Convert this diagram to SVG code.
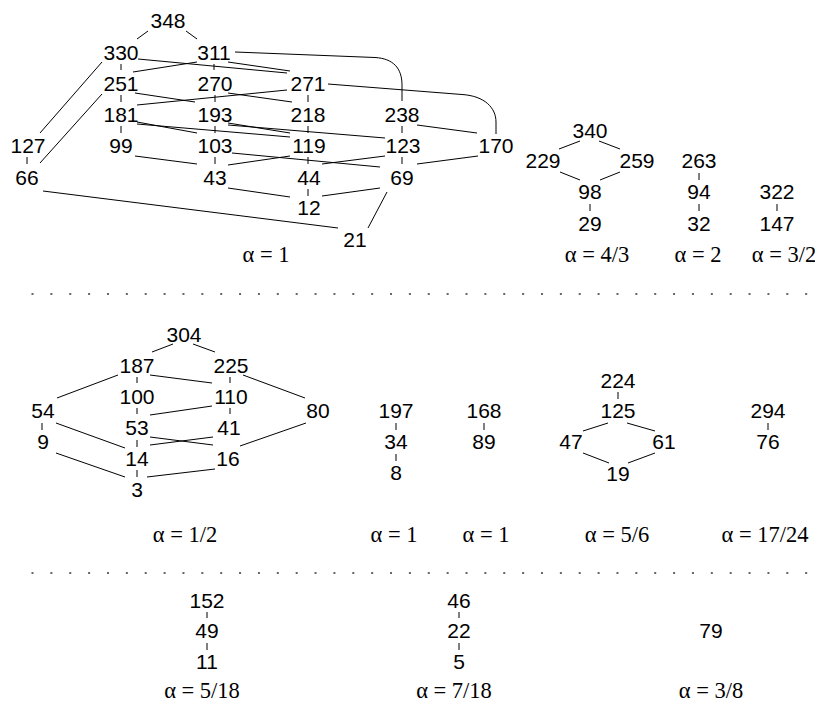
<svg xmlns="http://www.w3.org/2000/svg" width="815" height="706" viewBox="0 0 815 706">
<style>
.n text{font-family:"Liberation Sans",Arial,sans-serif;font-size:21px;text-anchor:middle;fill:#000}
.a{font-family:"Liberation Serif","Times New Roman",serif;font-size:22.5px;text-anchor:middle;fill:#000}
.e line,.e path{stroke:#000;stroke-width:1;fill:none}
.dots{stroke:#666;stroke-width:2;stroke-dasharray:2 16.87}
</style>
<rect width="815" height="706" fill="#fff"/>
<g class="e" id="connectors">
<line x1="137" y1="39" x2="148" y2="31"/>
<line x1="186" y1="31" x2="197" y2="39"/>
<line x1="121" y1="64" x2="121" y2="70"/>
<line x1="102" y1="62" x2="40" y2="133"/>
<line x1="138" y1="59" x2="287" y2="73"/>
<line x1="197" y1="62" x2="133" y2="72"/>
<line x1="228" y1="62" x2="290" y2="71"/>
<line x1="214" y1="64" x2="214" y2="70"/>
<path d="M235,52 L375,57.5 C393,58.5 402,68 402,85 L402,101"/>
<path d="M328,84 L462,94.5 C485,96 496,108 496,122 L496,134"/>
<line x1="121" y1="95" x2="121" y2="102"/>
<line x1="102" y1="94" x2="40" y2="163"/>
<line x1="135" y1="93" x2="195" y2="102"/>
<line x1="215" y1="95" x2="215" y2="102"/>
<line x1="228" y1="93" x2="292" y2="102"/>
<line x1="308" y1="95" x2="308" y2="102"/>
<line x1="287" y1="90" x2="137" y2="105"/>
<line x1="121" y1="126" x2="121" y2="133"/>
<line x1="137" y1="122" x2="197" y2="133"/>
<line x1="137" y1="124" x2="290" y2="137"/>
<line x1="215" y1="126" x2="215" y2="133"/>
<line x1="228" y1="123" x2="290" y2="133"/>
<line x1="228" y1="125" x2="385" y2="138"/>
<line x1="308" y1="126" x2="308" y2="133"/>
<line x1="402" y1="126" x2="402" y2="133"/>
<line x1="417" y1="125" x2="477" y2="133"/>
<line x1="27" y1="157" x2="27" y2="164"/>
<line x1="135" y1="156" x2="197" y2="164"/>
<line x1="215" y1="157" x2="215" y2="164"/>
<line x1="232" y1="153" x2="380" y2="167"/>
<line x1="290" y1="156" x2="228" y2="165"/>
<line x1="308" y1="157" x2="308" y2="164"/>
<line x1="385" y1="156" x2="322" y2="164"/>
<line x1="402" y1="157" x2="402" y2="164"/>
<line x1="478" y1="156" x2="417" y2="164"/>
<line x1="228" y1="188" x2="290" y2="197"/>
<line x1="308" y1="189" x2="308" y2="196"/>
<line x1="380" y1="188" x2="322" y2="196"/>
<line x1="387" y1="192" x2="368" y2="228"/>
<line x1="43" y1="191" x2="338" y2="228"/>
<line x1="580" y1="141" x2="559" y2="149"/>
<line x1="599" y1="141" x2="620" y2="149"/>
<line x1="560" y1="172" x2="580" y2="180"/>
<line x1="620" y1="172" x2="600" y2="180"/>
<line x1="590" y1="204" x2="590" y2="211"/>
<line x1="699" y1="173" x2="699" y2="180"/>
<line x1="699" y1="204" x2="699" y2="211"/>
<line x1="777" y1="204" x2="777" y2="211"/>
<line x1="152" y1="352" x2="173" y2="344"/>
<line x1="193" y1="344" x2="215" y2="352"/>
<line x1="137" y1="377" x2="137" y2="383"/>
<line x1="118" y1="375" x2="57" y2="398"/>
<line x1="150" y1="375" x2="212" y2="383"/>
<line x1="230" y1="377" x2="230" y2="383"/>
<line x1="243" y1="375" x2="305" y2="398"/>
<line x1="137" y1="408" x2="137" y2="414"/>
<line x1="212" y1="406" x2="150" y2="415"/>
<line x1="230" y1="408" x2="230" y2="414"/>
<line x1="42" y1="423" x2="42" y2="430"/>
<line x1="56" y1="423" x2="125" y2="448"/>
<line x1="137" y1="440" x2="137" y2="447"/>
<line x1="150" y1="437" x2="213" y2="445"/>
<line x1="213" y1="437" x2="150" y2="445"/>
<line x1="306" y1="423" x2="240" y2="446"/>
<line x1="56" y1="453" x2="125" y2="477"/>
<line x1="137" y1="470" x2="137" y2="477"/>
<line x1="215" y1="469" x2="147" y2="477"/>
<line x1="396" y1="423" x2="396" y2="430"/>
<line x1="396" y1="454" x2="396" y2="461"/>
<line x1="484" y1="423" x2="484" y2="430"/>
<line x1="618" y1="392" x2="618" y2="399"/>
<line x1="608" y1="423" x2="583" y2="431"/>
<line x1="627" y1="423" x2="655" y2="431"/>
<line x1="583" y1="453" x2="609" y2="463"/>
<line x1="655" y1="453" x2="628" y2="463"/>
<line x1="768" y1="423" x2="768" y2="430"/>
<line x1="207" y1="612" x2="207" y2="618"/>
<line x1="207" y1="643" x2="207" y2="650"/>
<line x1="459" y1="612" x2="459" y2="618"/>
<line x1="459" y1="643" x2="459" y2="650"/>
</g>
<line class="dots" x1="31.5" y1="294" x2="810" y2="294"/>
<line class="dots" x1="31.5" y1="573" x2="810" y2="573"/>
<g class="n">
<g id="n348"><text x="168" y="28">348</text></g>
<g id="n330"><text x="121" y="60">330</text></g>
<g id="n311"><text x="214" y="60">311</text></g>
<g id="n251"><text x="121" y="91">251</text></g>
<g id="n270"><text x="215" y="91">270</text></g>
<g id="n271"><text x="308" y="91">271</text></g>
<g id="n181"><text x="121" y="122">181</text></g>
<g id="n193"><text x="215" y="122">193</text></g>
<g id="n218"><text x="308" y="122">218</text></g>
<g id="n238"><text x="402" y="122">238</text></g>
<g id="n127"><text x="28" y="153">127</text></g>
<g id="n99"><text x="121" y="153">99</text></g>
<g id="n103"><text x="215" y="153">103</text></g>
<g id="n119"><text x="309" y="153">119</text></g>
<g id="n123"><text x="403" y="153">123</text></g>
<g id="n170"><text x="496" y="153">170</text></g>
<g id="n66"><text x="27" y="185">66</text></g>
<g id="n43"><text x="215" y="185">43</text></g>
<g id="n44"><text x="309" y="185">44</text></g>
<g id="n69"><text x="402" y="185">69</text></g>
<g id="n12"><text x="309" y="215">12</text></g>
<g id="n21"><text x="355" y="247">21</text></g>
<g id="n340"><text x="590" y="138">340</text></g>
<g id="n229"><text x="543" y="168">229</text></g>
<g id="n259"><text x="637" y="168">259</text></g>
<g id="n98"><text x="590" y="199">98</text></g>
<g id="n29"><text x="590" y="231">29</text></g>
<g id="n263"><text x="699" y="168">263</text></g>
<g id="n94"><text x="699" y="199">94</text></g>
<g id="n32"><text x="699" y="231">32</text></g>
<g id="n322"><text x="777" y="199">322</text></g>
<g id="n147"><text x="777" y="231">147</text></g>
<g id="n304"><text x="184" y="342">304</text></g>
<g id="n187"><text x="137" y="373">187</text></g>
<g id="n225"><text x="231" y="373">225</text></g>
<g id="n100"><text x="137" y="404">100</text></g>
<g id="n110"><text x="231" y="404">110</text></g>
<g id="n54"><text x="43" y="418">54</text></g>
<g id="n80"><text x="318" y="418">80</text></g>
<g id="n53"><text x="137" y="435">53</text></g>
<g id="n41"><text x="229" y="435">41</text></g>
<g id="n9"><text x="43" y="449">9</text></g>
<g id="n14"><text x="137" y="466">14</text></g>
<g id="n16"><text x="228" y="466">16</text></g>
<g id="n3"><text x="137" y="497">3</text></g>
<g id="n197"><text x="396" y="418">197</text></g>
<g id="n34"><text x="396" y="449">34</text></g>
<g id="n8"><text x="396" y="480">8</text></g>
<g id="n168"><text x="484" y="418">168</text></g>
<g id="n89"><text x="484" y="449">89</text></g>
<g id="n224"><text x="618" y="388">224</text></g>
<g id="n125"><text x="618" y="418">125</text></g>
<g id="n47"><text x="571" y="449">47</text></g>
<g id="n61"><text x="664" y="449">61</text></g>
<g id="n19"><text x="618" y="481">19</text></g>
<g id="n294"><text x="768" y="418">294</text></g>
<g id="n76"><text x="768" y="449">76</text></g>
<g id="n152"><text x="207" y="608">152</text></g>
<g id="n49"><text x="207" y="638">49</text></g>
<g id="n11"><text x="207" y="669">11</text></g>
<g id="n46"><text x="459" y="608">46</text></g>
<g id="n22"><text x="459" y="638">22</text></g>
<g id="n5"><text x="459" y="669">5</text></g>
<g id="n79"><text x="711" y="638">79</text></g>
</g>
<g id="labels">
<text class="a" x="266" y="262">α = 1</text>
<text class="a" x="597" y="262">α = 4/3</text>
<text class="a" x="698" y="262">α = 2</text>
<text class="a" x="784" y="262">α = 3/2</text>
<text class="a" x="185" y="542">α = 1/2</text>
<text class="a" x="394" y="542">α = 1</text>
<text class="a" x="486" y="542">α = 1</text>
<text class="a" x="617" y="542">α = 5/6</text>
<text class="a" x="765" y="542">α = 17/24</text>
<text class="a" x="202" y="698">α = 5/18</text>
<text class="a" x="454" y="698">α = 7/18</text>
<text class="a" x="711" y="698">α = 3/8</text>
</g>
</svg>
